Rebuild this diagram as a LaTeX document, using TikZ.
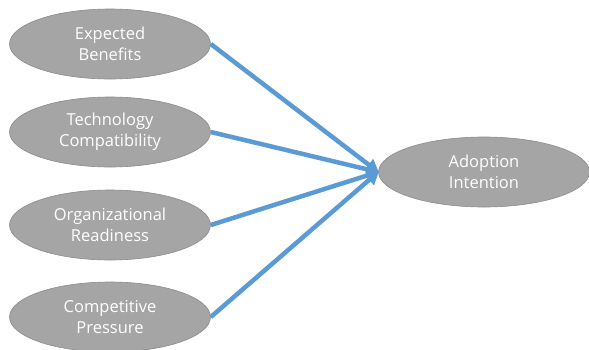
\documentclass[tikz,border=0pt]{standalone}
\usepackage{fontspec}
\setmainfont{Open Sans}
\usetikzlibrary{shapes.geometric,arrows.meta}
\definecolor{ellfill}{HTML}{A5A5A5}
\definecolor{elldraw}{HTML}{8C8C8C}
\definecolor{arrowblue}{HTML}{5B9BD5}
\begin{document}
\begin{tikzpicture}[x=1pt,y=-1pt,
  factor/.style={ellipse, fill=ellfill, draw=elldraw, line width=0.6pt,
    minimum width=201pt, minimum height=70pt, inner sep=0pt,
    text=white, align=center, font=\fontsize{16.5}{21}\selectfont},
  link/.style={draw=arrowblue, line width=4.5pt,
    -{Triangle[length=13pt,width=14pt]}, shorten >=-1pt}]
\useasboundingbox (0,0) rectangle (589,349);
\node[factor] (eb) at (110,44) {Expected\\Benefits};
\node[factor] (tc) at (110,132) {Technology\\Compatibility};
\node[factor] (or) at (110,225) {Organizational\\Readiness};
\node[factor] (cp) at (110,317) {Competitive\\Pressure};
\node[factor, minimum width=211pt] (ai) at (484,172) {Adoption\\Intention};
\draw[link] (eb.east) -- (ai.west);
\draw[link] (tc.east) -- (ai.west);
\draw[link] (or.east) -- (ai.west);
\draw[link] (cp.east) -- (ai.west);
\end{tikzpicture}
\end{document}
